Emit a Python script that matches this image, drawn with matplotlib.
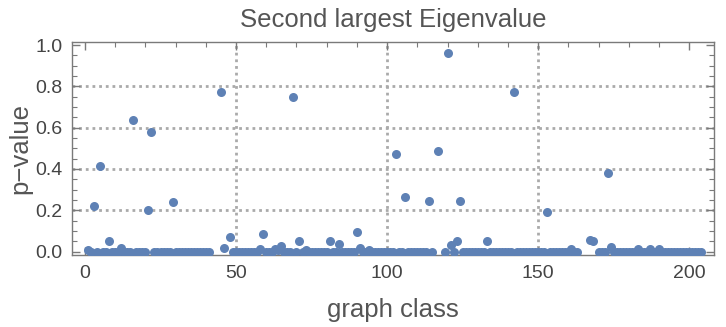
import numpy as np
import matplotlib.pyplot as plt
from matplotlib.ticker import MultipleLocator

plt.rcParams['font.family'] = ['Liberation Sans', 'DejaVu Sans']

# p-values for each graph class (1..204), None = no point drawn
pvalues = [
    0.008, 0, 0.22, 0, 0.414, 0, 0, 0.051, 0, 0,
    0, 0.016, 0, 0, 0, 0.635, 0, 0, 0, 0,
    0.20, 0.577, 0, 0, 0, 0, 0, 0, 0.238, 0,
    0, 0, 0, 0, 0, 0, 0, 0, 0, 0,
    0, None, None, None, 0.771, 0.016, None, 0.069, 0, 0,
    0, 0, 0, 0, 0, 0, 0, 0.013, 0.085, 0,
    0, 0, 0.013, 0.01, 0.029, 0, 0, 0, 0.747, 0,
    0.051, 0, 0.01, 0, 0, 0, 0, 0, 0, 0,
    0.051, 0, 0, 0.035, 0, 0, 0, 0, 0, 0.095,
    0.017, 0, 0, 0.008, 0, 0, 0, 0, 0, 0,
    0, 0, 0.471, 0, 0, 0.264, 0, 0, 0, 0,
    0, 0, 0, 0.243, 0, None, 0.487, None, 0, 0.96,
    0.032, 0, 0.053, 0.243, 0, 0, 0, 0, 0, 0,
    0, 0, 0.051, 0, 0, 0, 0, 0, 0, 0,
    0, 0.771, 0, 0, 0, 0, 0, 0, 0, 0,
    0, 0, 0.19, 0, 0, 0, 0, 0, 0, 0,
    0.013, 0, 0, None, None, None, 0.056, 0.051, None, 0,
    0, 0, 0.379, 0.024, 0, 0, 0, 0, 0, 0,
    0, 0, 0.011, 0, 0, 0, 0.011, 0, 0, 0.011,
    0, 0, 0, 0, 0, 0, 0, 0, 0, 0,
    0, 0, 0, 0,
]
graph_class = np.arange(1, len(pvalues) + 1)
pv = np.array([np.nan if v is None else v for v in pvalues], dtype=float)

xgrid = [50, 100, 150]
ygrid = [0.2, 0.4, 0.6, 0.8]

frame_col = '#7a7a7a'
text_col = '#555555'
point_col = '#5e81b5'

fig = plt.figure(figsize=(7.26, 3.27), dpi=100)
ax = fig.add_axes([72 / 726, 1 - 255 / 327, (714 - 72) / 726, (255 - 42) / 327])

for gx in xgrid:
    ax.axvline(gx, color='#aaaaaa', lw=2.0, ls=(0, (1, 1.4)), zorder=1)
for gy in ygrid:
    ax.axhline(gy, color='#aaaaaa', lw=2.0, ls=(0, (1, 1.4)), zorder=1)

ax.plot(graph_class, pv, 'o', color=point_col, ms=6.5, mec='none', zorder=3)

ax.set_xlim(-4.3, 208.2)
ax.set_ylim(-0.0165, 1.015)
ax.xaxis.set_major_locator(MultipleLocator(50))
ax.xaxis.set_minor_locator(MultipleLocator(10))
ax.yaxis.set_major_locator(MultipleLocator(0.2))
ax.yaxis.set_minor_locator(MultipleLocator(0.05))
ax.yaxis.set_major_formatter(plt.FuncFormatter(lambda v, p: f'{v:.1f}'))

for s in ax.spines.values():
    s.set_color(frame_col)
    s.set_linewidth(1.0)

ax.tick_params(which='both', direction='in', top=True, right=True,
               color=frame_col, labelcolor='#444444', labelsize=14, pad=7)
ax.tick_params(which='major', length=6, width=1.0)
ax.tick_params(which='minor', length=3.5, width=0.8)

ax.set_title('Second largest Eigenvalue', fontsize=18.5, color=text_col, pad=11)
ax.set_xlabel('graph class', fontsize=18.5, color=text_col, labelpad=12)
ax.set_ylabel('p\u2212value', fontsize=18.5, color=text_col, labelpad=2)

fig.savefig('out.png', dpi=100)
